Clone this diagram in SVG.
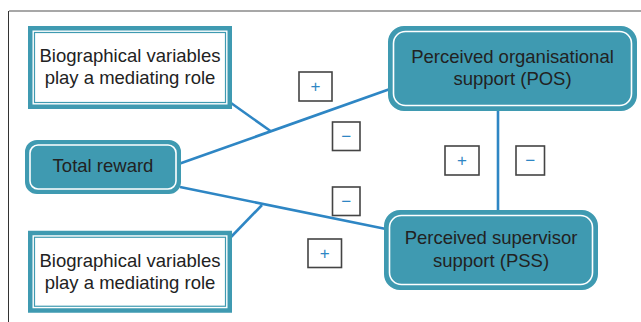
<svg xmlns="http://www.w3.org/2000/svg" width="641" height="322" viewBox="0 0 641 322">
<style>
.t{font-family:"Liberation Sans",Arial,sans-serif;font-size:18.5px;fill:#222;text-anchor:middle}
.rb{fill:#3f9ab1;stroke:#3f9ab1;stroke-width:2}
.ri{fill:none;stroke:#fff;stroke-width:1.6}
.bo{fill:#fff;stroke:#3f9ab1;stroke-width:4.5}
.bi{fill:none;stroke:#3f9ab1;stroke-width:1.2}
.c{stroke:#2e86c4;stroke-width:2.6;fill:none}
.sb{fill:#fff;stroke:#444;stroke-width:1.6}
.s{font-family:"Liberation Sans",Arial,sans-serif;font-size:17px;fill:#2e86c4;text-anchor:middle}
</style>
<rect width="641" height="322" fill="#fff"/>
<g id="frame">
<line x1="9" y1="11" x2="641" y2="11" stroke="#8a8a8a" stroke-width="1.5"/>
<line x1="8.5" y1="11" x2="8.5" y2="322" stroke="#333" stroke-width="1"/>
</g>
<g id="connectors">
<line class="c" x1="180" y1="163.5" x2="390" y2="89"/>
<line class="c" x1="231" y1="103" x2="270.5" y2="131"/>
<line class="c" x1="180" y1="187" x2="386" y2="229"/>
<line class="c" x1="231" y1="237" x2="262" y2="205"/>
<line class="c" x1="498" y1="110" x2="498" y2="211"/>
</g>
<g id="bio1">
<rect class="bo" x="30.25" y="28.25" width="199.5" height="78.5"/>
<rect class="bi" x="34.5" y="32.5" width="191" height="70"/>
<text class="t" x="130" y="61.5">Biographical variables</text>
<text class="t" x="130" y="84">play a mediating role</text>
</g>
<g id="bio2">
<rect class="bo" x="30.25" y="233" width="199.5" height="77.5"/>
<rect class="bi" x="34.5" y="237.25" width="191" height="69"/>
<text class="t" x="130" y="266.5">Biographical variables</text>
<text class="t" x="130" y="289">play a mediating role</text>
</g>
<g id="total">
<rect class="rb" x="26" y="141" width="154" height="52" rx="11"/>
<rect class="ri" x="30" y="145" width="146" height="44" rx="8"/>
<text class="t" x="103" y="171.5">Total reward</text>
</g>
<g id="pos">
<rect class="rb" x="389" y="27" width="247" height="83" rx="15"/>
<rect class="ri" x="393.5" y="31.5" width="238" height="74" rx="12"/>
<text class="t" x="512.5" y="62.5">Perceived organisational</text>
<text class="t" x="512.5" y="84.5">support (POS)</text>
</g>
<g id="pss">
<rect class="rb" x="385" y="211" width="212" height="78" rx="15"/>
<rect class="ri" x="389.5" y="215.5" width="203" height="69" rx="12"/>
<text class="t" x="491" y="244">Perceived supervisor</text>
<text class="t" x="491" y="266.5">support (PSS)</text>
</g>
<g id="sign1"><rect class="sb" x="299" y="72" width="33" height="29"/><text class="s" x="315.5" y="92">+</text></g>
<g id="sign2"><rect class="sb" x="332.5" y="122" width="27.5" height="28.5"/><text class="s" x="346.2" y="142">−</text></g>
<g id="sign3"><rect class="sb" x="332.5" y="187" width="27.5" height="28.5"/><text class="s" x="346.2" y="207">−</text></g>
<g id="sign4"><rect class="sb" x="308" y="239" width="33.5" height="28.5"/><text class="s" x="324.7" y="259">+</text></g>
<g id="sign5"><rect class="sb" x="445" y="146" width="34" height="29"/><text class="s" x="462" y="166">+</text></g>
<g id="sign6"><rect class="sb" x="516" y="146" width="28.5" height="29"/><text class="s" x="530.2" y="166">−</text></g>
</svg>
